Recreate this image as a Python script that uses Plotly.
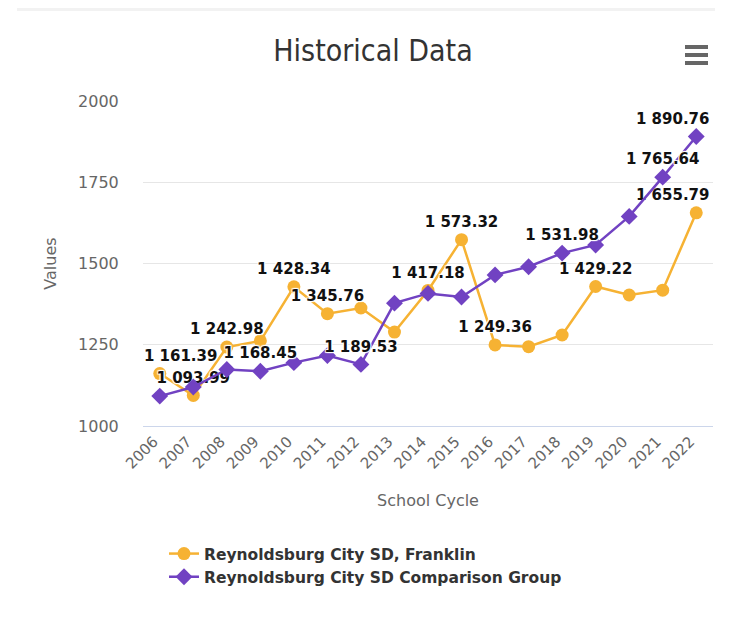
import plotly.graph_objects as go

years = [str(y) for y in range(2006, 2023)]
franklin = [1161.39, 1093.99, 1242.98, 1262, 1428.34, 1345.76, 1363, 1289, 1417.18,
            1573.32, 1249.36, 1244, 1280, 1429.22, 1403, 1418, 1655.79]
comparison = [1092, 1120, 1174, 1168.45, 1195, 1217, 1189.53, 1378, 1408,
              1397, 1465, 1490, 1531.98, 1557, 1645, 1765.64, 1890.76]
# which points carry a visible data label (others hidden by overlap in the original)
franklin_labeled = ["2006", "2007", "2008", "2010", "2011", "2014", "2015", "2016", "2019", "2022"]
comparison_labeled = ["2009", "2012", "2018", "2021", "2022"]

ORANGE = "#F6B233"
PURPLE = "#7142C2"
FONT = "DejaVu Sans, Verdana, sans-serif"
SHADOW = "1px 1px 1px white, -1px -1px 1px white, 1px -1px 1px white, -1px 1px 1px white"
NB = "\u00a0"

# page body has an 8px margin; work in figure pixel coords
OFF = 8
W, H = 741 - OFF, 627 - OFF
L, R, T, B = 143 - OFF, 713 - OFF, 101 - OFF, 426 - OFF


def px_x(p):
    return (p - OFF - L) / (R - L)


def px_y(p):
    return (B - (p - OFF)) / (B - T)


def tmpl(labeled):
    # labels at the plot edges are nudged inward (padding with blank space), like justified labels
    out = []
    for i, y in enumerate(years):
        if y not in labeled:
            out.append("")
        elif i == 0:
            out.append(NB * 8 + "%{y:,.2f}")
        elif i == len(years) - 1:
            out.append("%{y:,.2f}" + NB * 9)
        else:
            out.append("%{y:,.2f}")
    return out


fig = go.Figure()
fig.add_trace(go.Scatter(
    x=years, y=franklin, name="Reynoldsburg City SD, Franklin",
    mode="lines+markers+text", legendgroup="a", cliponaxis=False,
    line=dict(color=ORANGE, width=2.5),
    marker=dict(symbol="circle", size=13, color=ORANGE),
    texttemplate=tmpl(franklin_labeled), textposition="top center",
    textfont=dict(family=FONT, size=15, color="#111", weight="bold", shadow=SHADOW),
    hoverinfo="x+y",
))
fig.add_trace(go.Scatter(
    x=years, y=comparison, name="Reynoldsburg City SD Comparison Group",
    mode="lines+markers+text", legendgroup="b", cliponaxis=False,
    line=dict(color=PURPLE, width=2.5),
    marker=dict(symbol="diamond", size=13, color=PURPLE),
    texttemplate=tmpl(comparison_labeled), textposition="top center",
    textfont=dict(family=FONT, size=15, color="#111", weight="bold", shadow=SHADOW),
    hoverinfo="x+y",
))

shapes = [
    # top container rule
    dict(type="line", xref="paper", yref="paper", x0=px_x(17), x1=px_x(715),
         y0=px_y(OFF + 1.5), y1=px_y(OFF + 1.5), line=dict(color="#f2f2f2", width=3)),
]
# hamburger menu icon
for yy in (47, 55, 63):
    shapes.append(dict(type="line", xref="paper", yref="paper", x0=px_x(685), x1=px_x(708),
                       y0=px_y(yy), y1=px_y(yy), line=dict(color="#666666", width=4)))

fig.update_layout(
    width=W, height=H,
    margin=dict(l=L, r=W - R, t=T, b=H - B, pad=0),
    paper_bgcolor="white", plot_bgcolor="white",
    separators=". ",
    title=dict(text="Historical Data", x=(373 - OFF) / W, xanchor="center", xref="container",
               y=1 - (50 - OFF) / H, yanchor="middle", yref="container",
               font=dict(family="Liberation Sans Narrow, DejaVu Sans Condensed, Arial Narrow, sans-serif",
                         size=30, color="#333333")),
    xaxis=dict(type="category", range=[-0.5, 16.5], tickangle=-45,
               tickfont=dict(family=FONT, size=15, color="#666666"),
               ticklabelshift=-6,
               showgrid=False, showline=True, linecolor="#ccd6eb", linewidth=1,
               ticks="", zeroline=False,
               title=dict(text="School Cycle", standoff=23,
                          font=dict(family=FONT, size=16, color="#666666"))),
    yaxis=dict(range=[1000, 2000], tickvals=[1000, 1250, 1500, 1750, 2000],
               tickfont=dict(family=FONT, size=16, color="#666666"),
               showgrid=True, gridcolor="#e6e6e6", gridwidth=1, zeroline=False,
               ticks="outside", ticklen=20, tickcolor="rgba(0,0,0,0)",
               title=dict(text="Values", standoff=17,
                          font=dict(family=FONT, size=16, color="#666666"))),
    legend=dict(orientation="v", x=px_x(164), xanchor="left", y=px_y(537), yanchor="top",
                font=dict(family=FONT, size=15.5, color="#333333", weight="bold"),
                traceorder="grouped", tracegroupgap=0, itemwidth=30),
    shapes=shapes,
    showlegend=True,
)

fig.write_html("out.html")
